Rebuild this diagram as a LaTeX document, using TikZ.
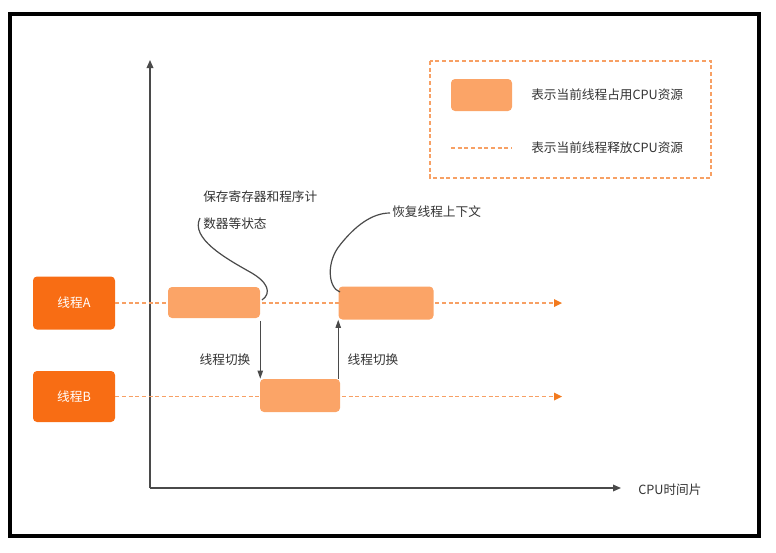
\documentclass[tikz,border=0pt]{standalone}
\usepackage{fontspec}
\setmainfont{Noto Sans CJK SC}
\usetikzlibrary{arrows.meta}
\definecolor{thr}{HTML}{F86D14}
\definecolor{blk}{HTML}{FBA467}
\definecolor{dsh}{HTML}{F7A064}
\definecolor{tip}{HTML}{F27A1E}
\definecolor{axc}{HTML}{4A4A4A}
\definecolor{txc}{HTML}{333333}
\begin{document}
\begin{tikzpicture}[x=0.75pt,y=-0.75pt,
  font=\fontsize{9.5}{12}\selectfont,
  thread/.style={fill=thr,rounded corners=3pt,text=white,inner sep=0pt,minimum width=61.5pt},
  busy/.style={fill=blk,rounded corners=3pt,inner sep=0pt},
  idle/.style={draw=dsh,line width=1.4pt,dash pattern=on 3pt off 2pt},
  idlearrow/.style={idle,-{Triangle[length=6pt,width=6pt,fill=tip,line width=0pt]}},
  axis/.style={draw=axc,line width=0.9pt,-{Triangle[length=6pt,width=5pt]}},
  switch/.style={draw=axc,line width=0.8pt,-{Triangle[length=6pt,width=4pt]}},
  note/.style={draw=axc,line width=0.9pt},
  lbl/.style={text=txc,inner sep=0pt}]
\useasboundingbox (0,0) rectangle (776,553);
\draw[line width=2.4pt] (10,14) rectangle (759,536);

% axes
\coordinate (O) at (150,488);
\coordinate (ytop) at (150,60);
\coordinate (xend) at (621,488);
\draw[axis] (O) -- (ytop);
\draw[axis] (O) -- (xend);
\node[lbl,anchor=west] (xl) at (638,490) {CPU时间片};

% threads
\node[thread,minimum height=39.75pt] (ta) at (74,303) {线程A};
\node[thread,minimum height=38.25pt] (tb) at (74,396.5) {线程B};
\coordinate (ea) at (562,303);
\draw[idlearrow] (ta.east) -- (ea);
\draw[idlearrow] (tb.east) -- (tb.east -| ea);

% busy blocks
\node[busy,minimum width=69pt,minimum height=23.25pt] (a1) at (214,302.5) {};
\node[busy,minimum width=71.25pt,minimum height=24.75pt] (a2) at (386,303) {};
\node[busy,minimum width=60pt,minimum height=24.75pt] (b1) at (300,395.5) {};

% switches
\draw[switch] ([yshift=-2]a1.south east) -- (a1.south east |- b1.north);
\draw[switch] (a2.south west |- b1.north) -- (a2.south west);
\node[lbl] (s1) at (225,360) {线程切换};
\node[lbl] (s2) at (373,360) {线程切换};

% notes
\node[lbl,anchor=north west,align=left,font=\fontsize{9.5}{20}\selectfont] (n1) at (203,191) {保存寄存器和程序计\\数器等状态};
\coordinate (c1) at (200,218);
\draw[note] (262,300) .. controls (272,293) and (268,282) .. (250,272)
  .. controls (225,258) and (190,238) .. (c1);
\node[lbl,anchor=west] (n2) at (392,212) {恢复线程上下文};
\coordinate (c2) at (390,213);
\draw[note] (340,292) .. controls (328,288) and (326,262) .. (340,245)
  .. controls (355,226) and (372,213) .. (c2);

% legend
\draw[draw=dsh,line width=1pt,dash pattern=on 3pt off 2pt] (430,61) rectangle (711,178);
\node[busy,minimum width=45.75pt,minimum height=24pt] (lg1) at (481.5,95) {};
\node[lbl,anchor=west] (lt1) at (531,95) {表示当前线程占用CPU资源};
\coordinate (ld1) at (451,148);
\coordinate (ld2) at (512,148);
\draw[idle,line width=0.9pt] (ld1) -- (ld2);
\node[lbl,anchor=west] (lt2) at (531,148) {表示当前线程释放CPU资源};
\end{tikzpicture}
\end{document}
